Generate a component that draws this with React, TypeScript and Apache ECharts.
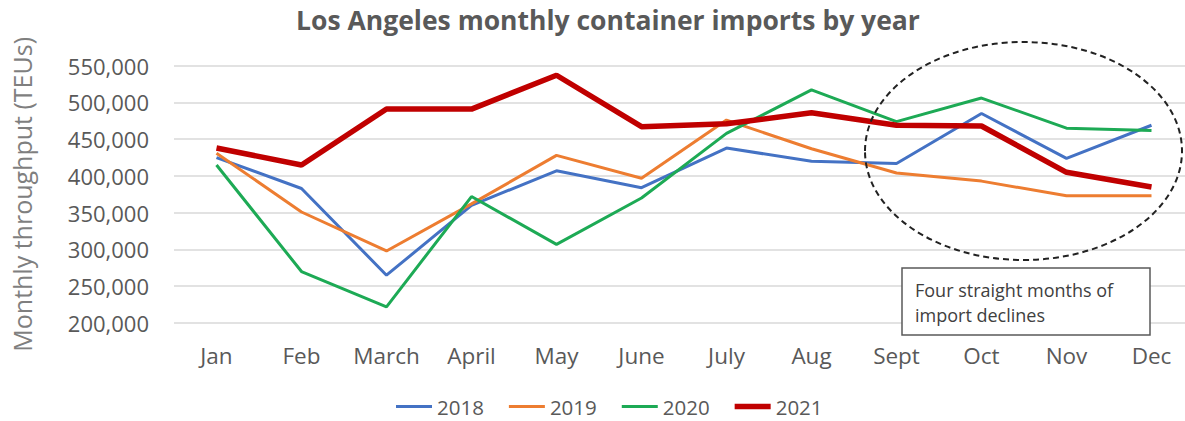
import React, { useEffect, useRef } from "react";
import * as echarts from "echarts";

const months = ["Jan", "Feb", "March", "April", "May", "June", "July", "Aug", "Sept", "Oct", "Nov", "Dec"];
const y2018 = [425000, 383000, 265000, 360000, 407000, 384000, 438000, 420000, 417000, 485000, 424000, 469000];
const y2019 = [431000, 351000, 298000, 362000, 428000, 397000, 476000, 437000, 404000, 393000, 373000, 373000];
const y2020 = [415000, 270000, 222000, 372000, 307000, 370000, 458000, 517000, 474000, 506000, 465000, 462000];
const y2021 = [438000, 415000, 491000, 491000, 537000, 467000, 471000, 486000, 469000, 468000, 405000, 385000];
const yTicks = { min: 200000, max: 550000, interval: 50000 };
const years = ["2018", "2019", "2020", "2021"];
const colors = ["#4472C4", "#ED7D31", "#1DAA55", "#C00000"];

const FONT = "'Open Sans', Lato, sans-serif";

export default function App() {
  const ref = useRef<HTMLDivElement>(null);
  useEffect(() => {
    if (!ref.current) return;
    const chart = echarts.init(ref.current, null, { renderer: "svg" });
    const mk = (name: string, data: number[], color: string, width: number) => ({
      name,
      type: "line",
      data,
      symbol: "none",
      lineStyle: { color, width },
      itemStyle: { color },
    });
    chart.setOption({
      animation: false,
      backgroundColor: "#ffffff",
      title: {
        text: "Los Angeles monthly container imports by year",
        left: 603,
        textAlign: "center",
        top: 1,
        textStyle: { fontFamily: FONT, fontSize: 26.5, fontWeight: "bold", color: "#595959" },
      },
      legend: {
        top: 391,
        left: 391,
        itemWidth: 36,
        itemHeight: 14,
        itemGap: 25,
        textStyle: { fontFamily: FONT, fontSize: 20.5, color: "#595959" },
        data: years.map((y, i) => ({
          name: y,
          icon: i === 3 ? "path://M0,0h12v1.8h-12z" : "path://M0,0h12v1h-12z",
        })),
      },
      grid: { left: 174, top: 65.7, width: 1020, height: 257.3, containLabel: false },
      xAxis: {
        type: "category",
        data: months,
        boundaryGap: true,
        axisLine: { show: false },
        axisTick: { show: false },
        axisLabel: { fontFamily: FONT, fontSize: 22.5, color: "#595959", margin: 21, interval: 0 },
      },
      yAxis: {
        type: "value",
        min: yTicks.min,
        max: yTicks.max,
        interval: yTicks.interval,
        name: "Monthly throughput (TEUs)",
        nameLocation: "middle",
        nameGap: 140,
        nameTextStyle: { fontFamily: FONT, fontSize: 25, color: "#7f7f7f" },
        axisLine: { show: false },
        axisTick: { show: false },
        axisLabel: {
          fontFamily: FONT,
          fontSize: 22,
          color: "#595959",
          margin: 25,
          formatter: (v: number) => v.toLocaleString("en-US"),
        },
        splitLine: { lineStyle: { color: "#d9d9d9", width: 1.5 } },
      },
      series: [
        mk(years[0], y2018, colors[0], 3),
        mk(years[1], y2019, colors[1], 3),
        mk(years[2], y2020, colors[2], 3),
        mk(years[3], y2021, colors[3], 5.5),
      ],
      graphic: [
        {
          type: "ellipse",
          z: 10,
          shape: { cx: 1023.5, cy: 151, rx: 158.5, ry: 109 },
          style: { fill: "none", stroke: "#222", lineWidth: 2, lineDash: [6, 4] },
        },
        {
          type: "rect",
          z: 10,
          shape: { x: 902, y: 268, width: 248, height: 67 },
          style: { fill: "#ffffff", stroke: "#595959", lineWidth: 1.5 },
        },
        {
          type: "text",
          z: 11,
          x: 915,
          y: 277.5,
          style: {
            text: "Four straight months of\nimport declines",
            fontFamily: FONT,
            fontSize: 18,
            lineHeight: 25,
            fill: "#404040",
          },
        },
      ],
    });
    return () => chart.dispose();
  }, []);
  return (
    <div
      ref={ref}
      style={{ position: "fixed", left: 0, top: 0, width: 1210, height: 421, background: "#fff" }}
    />
  );
}
